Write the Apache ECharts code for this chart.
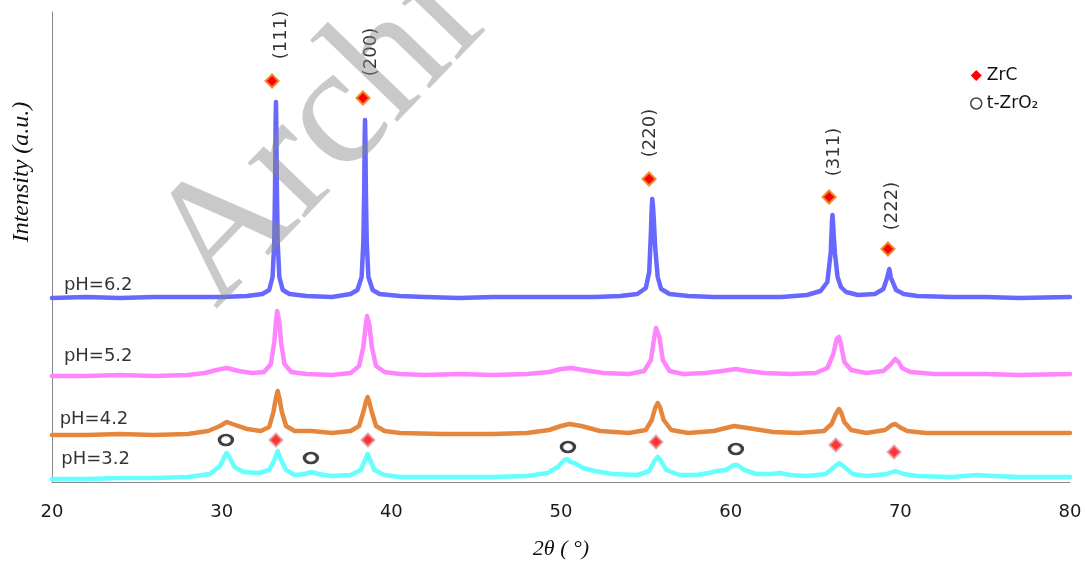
<!DOCTYPE html>
<html lang="en">
<head>
    <meta charset="UTF-8">
    <title>XRD ZrC</title>
</head>
<style>
    html, body{
        margin: 0;
        padding: 0;
        background-color: #fff;
    }
    .main{
        width: 1086px;
        height: 566px;
    }
</style>
<body>
<div id="main" class="main"></div>
<script src="https://cdn.jsdelivr.net/npm/echarts@6/dist/echarts.min.js"></script>
<script>
    // [2theta, intensity] (a.u.)
    var ph62 = [[20,184],[22,185],[24,184],[26,185],[28,185],[30,185],[31.5,186],[32.4,188],[32.8,192],[33.0,205],[33.1,240],[33.15,300],[33.18,360],[33.2,380],[33.22,360],[33.25,300],[33.3,240],[33.4,205],[33.6,192],[34.0,188],[35,186],[36.5,185],[37.6,188],[38.0,192],[38.25,205],[38.35,240],[38.4,290],[38.43,345],[38.45,362],[38.47,345],[38.5,290],[38.55,240],[38.65,205],[38.9,192],[39.3,188],[40.5,186],[42,185],[44,184],[46,185],[48,185],[50,185],[52,185],[53.5,186],[54.5,188],[55.0,194],[55.2,210],[55.3,250],[55.35,275],[55.38,283],[55.42,276],[55.47,262],[55.55,235],[55.7,205],[55.9,193],[56.4,188],[57.5,186],[59,185],[61,185],[63,185],[64.5,187],[65.3,191],[65.7,200],[65.9,230],[65.97,260],[66.0,267],[66.04,258],[66.08,245],[66.15,228],[66.3,205],[66.5,195],[66.8,190],[67.5,187],[68.5,188],[69.0,193],[69.2,203],[69.35,213],[69.43,205],[69.55,200],[69.75,192],[70.2,188],[71,186],[73,185],[75,185],[77,184],[80,185]];
    var ph52 = [[20,106],[22,106],[24,107],[26,106],[28,107],[29,109],[29.7,112],[30.3,114],[31,111],[31.8,109],[32.5,110],[32.9,118],[33.1,140],[33.2,160],[33.27,171],[33.3,173],[33.33,171],[33.4,160],[33.5,140],[33.7,118],[34.1,110],[35,108],[36.5,107],[37.6,109],[38.1,116],[38.35,135],[38.5,158],[38.57,166],[38.6,168],[38.63,166],[38.7,158],[38.85,135],[39.1,116],[39.6,110],[40.5,108],[42,107],[44,108],[46,107],[48,108],[49.3,110],[50.0,113],[50.6,114],[51.3,112],[52.5,109],[54,108],[54.9,111],[55.3,122],[55.5,145],[55.6,154],[55.65,156],[55.7,154],[55.8,145],[56.0,122],[56.4,111],[57.2,108],[58.5,109],[59.5,111],[60.3,113],[61,111],[62,109],[63.5,108],[65,109],[65.7,114],[66.05,128],[66.25,143],[66.38,145],[66.5,138],[66.7,120],[67.1,112],[68,109],[69.0,111],[69.4,117],[69.7,123],[69.9,120],[70.1,114],[70.6,110],[72,108],[75,108],[77,107],[80,108]];
    var ph42 = [[20,47],[22,47],[24,48],[26,47],[28,48],[29.2,51],[29.9,56],[30.3,60],[30.8,57],[31.5,53],[32.3,51],[32.8,55],[33.05,70],[33.2,84],[33.3,91],[33.4,84],[33.55,70],[33.8,56],[34.3,51],[35.3,51],[36.5,49],[37.6,51],[38.1,56],[38.35,70],[38.5,80],[38.6,85],[38.7,80],[38.85,70],[39.1,56],[39.6,51],[40.5,49],[43,48],[46,48],[48,49],[49.3,52],[50.0,56],[50.5,58],[51.2,56],[52.3,51],[54,49],[55.0,52],[55.35,62],[55.55,74],[55.7,79],[55.85,74],[56.05,62],[56.5,52],[57.5,49],[59,51],[60.2,56],[61,54],[62.5,50],[64,49],[65.5,51],[65.95,58],[66.2,68],[66.38,73],[66.5,70],[66.7,60],[67.1,52],[68,49],[69.1,52],[69.5,57],[69.7,58],[69.95,55],[70.4,51],[71.5,49],[74,49],[77,49],[80,49]];
    var ph32 = [[20,3],[22,3],[24,4],[26,4],[28,5],[29.3,8],[29.9,16],[30.15,25],[30.3,29],[30.45,25],[30.75,15],[31.3,10],[32.2,9],[32.8,12],[33.1,22],[33.3,31],[33.5,22],[33.8,12],[34.3,7],[34.9,8],[35.3,10],[35.7,8],[36.5,6],[37.6,7],[38.2,12],[38.45,22],[38.6,28],[38.75,22],[39.0,12],[39.6,7],[40.5,5],[43,5],[46,5],[48,6],[49.2,9],[49.8,15],[50.2,22],[50.35,23],[50.55,20],[50.8,19],[51.3,14],[52,11],[53,8],[54.5,7],[55.2,11],[55.5,21],[55.7,25],[55.9,21],[56.2,12],[57,7],[58,7],[58.7,9],[59.2,11],[59.7,12],[60.2,17],[60.4,17],[60.8,12],[61.5,8],[62.4,8],[62.9,9],[63.5,7],[64.5,6],[65.6,8],[66.1,15],[66.4,19],[66.7,15],[67.2,8],[68,6],[69.2,8],[69.7,11],[70.2,8],[71,6],[73,5],[74.5,7],[75.5,6],[77,5],[80,5]];

    // phase markers
    var zrcTop = [[32.97,401],[38.33,384],[55.19,303],[65.8,285],[69.27,233]];
    var zrcLow = [[33.2,42],[38.62,42],[55.6,40],[66.2,37],[69.63,30]];
    var zro2Low = [[30.25,42],[35.26,24],[50.41,35],[60.31,33]];

    // hkl labels
    var hklNames = ['(111)','(200)','(220)','(311)','(222)'];
    var hklPos = [[33.5,447],[38.8,430],[55.25,349],[66.1,330],[69.5,276]];

    var phNames = ['pH=6.2','pH=5.2','pH=4.2','pH=3.2'];
    var phPos = [[20.7,197],[20.7,126],[20.45,63],[20.55,23]];

    var xTicks = [20,30,40,50,60,70,80];

    var app = echarts.init(document.getElementById('main'));

    function lineSeries(name, data, color){
        return {
            name: name,
            type: 'line',
            data: data,
            showSymbol: false,
            silent: true,
            lineStyle: {color: color, width: 4.5, cap: 'round', join: 'round'},
            itemStyle: {color: color},
            z: 2
        };
    }

    function textSeries(name, data, names, label){
        label.show = true;
        label.formatter = function (p) { return names[p.dataIndex]; };
        return {
            name: name,
            type: 'scatter',
            symbolSize: 0,
            data: data,
            silent: true,
            itemStyle: {color: '#000'},
            label: label,
            z: 6
        };
    }

    var textFont = 'DejaVu Sans';

    option = {
        animation: false,
        backgroundColor: '#fff',
        grid: {left: 52, right: 16, top: 12, bottom: 84},
        legend: {
            orient: 'vertical',
            left: 965,
            top: 62,
            itemWidth: 11,
            itemHeight: 11,
            itemGap: 11,
            textStyle: {fontFamily: textFont, fontSize: 17, color: '#111'},
            data: [
                {name: 'ZrC', icon: 'diamond', itemStyle: {color: '#ff0000', borderWidth: 0}},
                {name: 't-ZrO₂', icon: 'circle', itemStyle: {color: 'transparent', borderColor: '#111', borderWidth: 1.5}}
            ]
        },
        xAxis: {
            type: 'value',
            min: 20,
            max: 80,
            interval: 10,
            name: '2θ ( °)',
            nameLocation: 'middle',
            nameGap: 56,
            nameTextStyle: {fontFamily: 'Liberation Serif', fontStyle: 'italic', fontSize: 22, color: '#111'},
            axisLine: {show: true, lineStyle: {color: '#888', width: 1}},
            axisTick: {show: false},
            splitLine: {show: false},
            axisLabel: {
                fontFamily: textFont, fontSize: 18, color: '#1a1a1a', margin: 21,
                formatter: function (v) { return xTicks.indexOf(v) >= 0 ? String(v) : ''; }
            }
        },
        yAxis: {
            type: 'value',
            min: 0,
            max: 470,
            axisLine: {show: true, lineStyle: {color: '#888', width: 1}},
            axisTick: {show: false},
            axisLabel: {show: false},
            splitLine: {show: false}
        },
        series: [
            lineSeries('pH=3.2', ph32, '#66ffff'),
            lineSeries('pH=4.2', ph42, '#e6863c'),
            lineSeries('pH=5.2', ph52, '#ff85ff'),
            lineSeries('pH=6.2', ph62, '#6868ff'),
            {
                name: 'ZrC',
                type: 'scatter',
                symbol: 'diamond',
                symbolSize: 13,
                data: zrcTop,
                silent: true,
                itemStyle: {color: '#ff0000', borderColor: '#f08a30', borderWidth: 2, opacity: 1},
                z: 5
            },
            {
                name: 'ZrC',
                type: 'scatter',
                symbol: 'diamond',
                symbolSize: 13,
                data: zrcLow,
                silent: true,
                itemStyle: {color: '#ff0000', borderColor: '#e0a0a8', borderWidth: 2},
                z: 5
            },
            {
                name: 't-ZrO₂',
                type: 'scatter',
                symbol: 'circle',
                symbolSize: [13, 10],
                data: zro2Low,
                silent: true,
                itemStyle: {color: 'transparent', borderColor: '#111', borderWidth: 3},
                z: 5
            },
            textSeries('hkl', hklPos, hklNames, {
                position: 'inside', rotate: 90,
                fontFamily: textFont, fontSize: 18, color: '#000', textBorderWidth: 0
            }),
            textSeries('ph', phPos, phNames, {
                position: 'right', distance: 0,
                fontFamily: textFont, fontSize: 18, color: '#000', textBorderWidth: 0
            })
        ],
        graphic: [
            {
                type: 'text',
                x: 22,
                y: 172,
                rotation: Math.PI / 2,
                style: {
                    text: 'Intensity (a.u.)',
                    font: 'italic 24px "Liberation Serif"',
                    fill: '#111',
                    align: 'center',
                    verticalAlign: 'middle'
                }
            },
            {
                // watermark
                type: 'text',
                x: 245,
                y: 338,
                rotation: 46 * Math.PI / 180,
                z: 100,
                silent: true,
                style: {
                    text: 'Archive of SID',
                    font: '172px "Liberation Serif"',
                    fill: 'rgba(135,135,135,0.45)',
                    align: 'left',
                    verticalAlign: 'bottom'
                }
            }
        ]
    };

    app.setOption(option);
</script>
</body>
</html>
